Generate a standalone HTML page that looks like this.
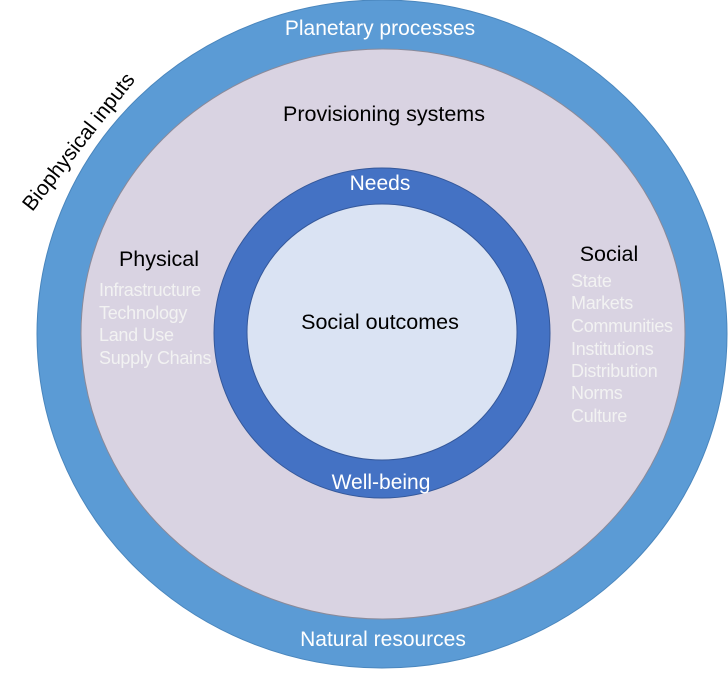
<!DOCTYPE html>
<html><head><meta charset="utf-8"><style>
html,body{margin:0;padding:0;background:#fff;}
svg text{font-family:"Liberation Sans",sans-serif;}
</style></head><body>
<svg width="728" height="669" viewBox="0 0 728 669" xmlns="http://www.w3.org/2000/svg">
<ellipse cx="382" cy="334" rx="345" ry="334" fill="#5b9bd5" stroke="#4a86bd" stroke-width="1"/>
<ellipse cx="383" cy="334" rx="302" ry="285" fill="#d9d3e2" stroke="#8a8a9a" stroke-width="1"/>
<ellipse cx="382" cy="333" rx="168" ry="165" fill="#4472c4" stroke="#35589a" stroke-width="1"/>
<ellipse cx="382" cy="332" rx="135" ry="128" fill="#dae3f3" stroke="#35589a" stroke-width="1"/>
<g font-size="21" fill="#fff" text-anchor="middle">
<text x="380" y="35">Planetary processes</text>
<text x="383" y="646">Natural resources</text>
<text x="380" y="190">Needs</text>
<text x="381" y="489">Well-being</text>
</g>
<g font-size="21.5" fill="#000" text-anchor="middle">
<text x="384" y="121">Provisioning systems</text>
<text x="380" y="329">Social outcomes</text>
<text x="159" y="266">Physical</text>
<text x="609" y="261">Social</text>
</g>
<text x="84" y="146" font-size="21" fill="#000" text-anchor="middle" transform="rotate(-52 84 146)">Biophysical inputs</text>
<g font-size="18" fill="#f2f2f2" letter-spacing="-0.3">
<text x="99" y="296">Infrastructure</text>
<text x="99" y="319">Technology</text>
<text x="99" y="341">Land Use</text>
<text x="99" y="364">Supply Chains</text>
<text x="571" y="287">State</text>
<text x="571" y="309">Markets</text>
<text x="571" y="332">Communities</text>
<text x="571" y="355">Institutions</text>
<text x="571" y="377">Distribution</text>
<text x="571" y="399">Norms</text>
<text x="571" y="422">Culture</text>
</g>
</svg>
</body></html>
